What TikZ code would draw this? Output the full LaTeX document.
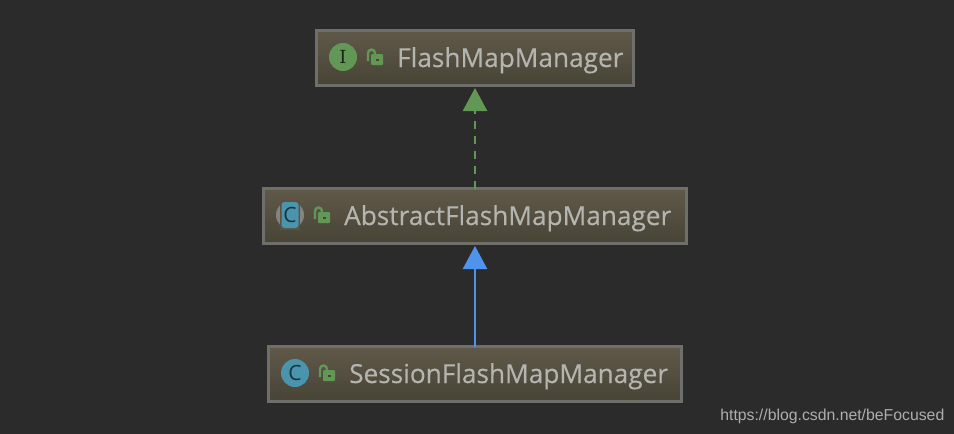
\documentclass[tikz,border=0pt]{standalone}
\usepackage{fontspec}
\setmainfont{Open Sans}
\newfontfamily\namefont[FakeBold=0.35]{Open Sans}
\newfontfamily\markfont{Liberation Sans}
\newfontfamily\iconfont{DejaVu Serif}
\usetikzlibrary{arrows.meta,positioning,calc}
\definecolor{pagebg}{HTML}{2B2B2B}
\definecolor{boxtop}{HTML}{605949}
\definecolor{boxbottom}{HTML}{474436}
\definecolor{boxline}{HTML}{6E6E6B}
\definecolor{boxtext}{HTML}{B4B4B0}
\definecolor{ifacegreen}{HTML}{629755}
\definecolor{classblue}{HTML}{4A94AE}
\definecolor{extendblue}{HTML}{4F93EC}

\begin{document}
\begin{tikzpicture}[
    x=1pt, y=-1pt,
    classbox/.style={draw=boxline, line width=2.3pt, top color=boxtop, bottom color=boxbottom, minimum height=55pt, inner sep=0pt, outer sep=0pt, anchor=north west},
    boxname/.style={font=\fontsize{26.2}{28}\namefont, text=boxtext, inner sep=0pt, anchor=base west},
    roundicon/.style={circle, minimum size=28pt, inner sep=0pt, outer sep=0pt, font=\fontsize{21}{22}\rmfamily},
    arrow/.style={-{Triangle[length=23pt,width=24pt]}, line width=2.6pt, shorten >=2.5pt},
    lock/.pic={
        \fill[ifacegreen, rounded corners=1pt] (-4,-4) rectangle (8,7);
        \fill[boxbottom] (0.5,0.5) rectangle (3.5,2.5);
        \draw[ifacegreen, line width=2.4pt] (-7,3) -- (-7,-5) arc[start angle=180, end angle=360, radius=3.5] -- (0,-4);
    }
]
\fill[pagebg] (0,0) rectangle (954,434);
\useasboundingbox (0,0) rectangle (954,434);

% class boxes
\node[classbox, minimum width=317pt] (flash) at (316.5,30.5) {};
\node[classbox, minimum width=423pt] (abstract) at (263.5,188.5) {};
\node[classbox, minimum width=413pt] (session) at (268.5,346.5) {};

% icons and names
\node[roundicon, fill=ifacegreen, text=black!75!ifacegreen, font=\fontsize{18}{20}\iconfont] (flashicon) at (343,57) {I};
\pic at (375,58) {lock};
\node[boxname] (flashname) at (397,67) {FlashMapManager};

\node[roundicon, fill=boxline!85!white] (abstracticon) at (290,215) {};
\fill[boxtop!70!boxbottom] (280,200) rectangle (300,230);
\fill[classblue, rounded corners=3pt] (281.5,202) rectangle (298.5,228);
\node[roundicon, text=black!65!classblue] at (abstracticon) {C};
\pic at (322,216) {lock};
\node[boxname] (abstractname) at (344,225) {AbstractFlashMapManager};

\node[roundicon, fill=classblue, text=black!65!classblue] (sessionicon) at (295,373) {C};
\pic at (327,374) {lock};
\node[boxname] (sessionname) at (349,383) {SessionFlashMapManager};

% connectors
\draw[arrow, ifacegreen, dash pattern=on 8pt off 7pt] (abstract.north -| flash.south) -- (flash.south);
\draw[arrow, extendblue] (session.north -| abstract.south) -- (abstract.south);

\node[font=\fontsize{15.8}{18}\markfont, text=white!62!pagebg, inner sep=0pt, anchor=base east] (watermark) at (944.5,420) {https://blog.csdn.net/beFocused};
\end{tikzpicture}
\end{document}
